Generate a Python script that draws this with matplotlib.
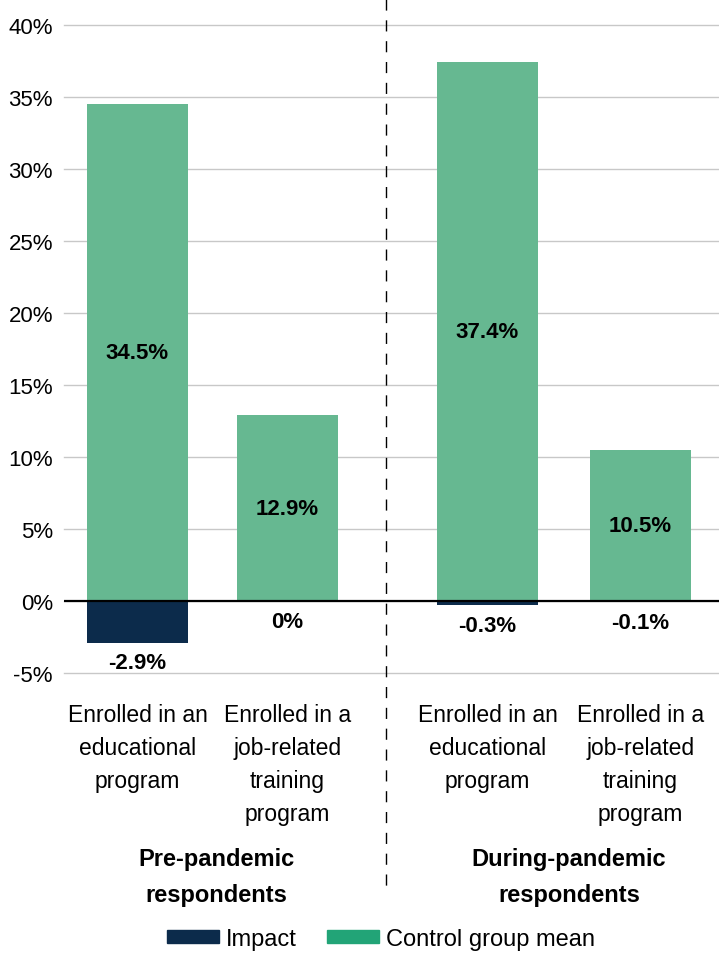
import matplotlib
matplotlib.use("Agg")
import matplotlib.pyplot as plt
import matplotlib.transforms as mtransforms
from matplotlib.lines import Line2D
from matplotlib.patches import Patch

# ── Data ───────────────────────────────────────────────────────────────────
categories = [
    "Enrolled in an\neducational\nprogram",
    "Enrolled in a\njob-related\ntraining\nprogram",
    "Enrolled in an\neducational\nprogram",
    "Enrolled in a\njob-related\ntraining\nprogram",
]
groups        = ["Pre-pandemic\nrespondents", "During-pandemic\nrespondents"]
control_mean  = [34.5, 12.9, 37.4, 10.5]
impact        = [-2.9, 0.0, -0.3, -0.1]
impact_labels = ["-2.9%", "0%", "-0.3%", "-0.1%"]
yticks        = [-5, 0, 5, 10, 15, 20, 25, 30, 35, 40]

# ── Layout (pixel-ish units along x) ───────────────────────────────────────
x_pos     = [73.5, 223.5, 423.5, 576.5]
group_x   = [152, 505]
bar_w     = 101
divider_x = 322

C_IMPACT  = "#0C2B4B"
C_CONTROL = "#66B891"
C_LEGEND  = "#22A477"

plt.rcParams["font.family"] = ["Liberation Sans", "DejaVu Sans"]

W, H = 719, 954
fig = plt.figure(figsize=(W / 100, H / 100), dpi=100)
ax = fig.add_axes([64 / W, 1 - 674 / H, 1 - 64 / W, (674 - 26) / H])

ax.bar(x_pos, control_mean, width=bar_w, color=C_CONTROL, zorder=2)
ax.bar(x_pos, impact, width=bar_w, color=C_IMPACT, zorder=2)
ax.axhline(0, color="black", linewidth=1.6, zorder=3)

for x, v in zip(x_pos, control_mean):
    ax.text(x, v / 2, f"{v}%", ha="center", va="center",
            fontsize=16, fontweight="bold", zorder=4)
for x, v, lab in zip(x_pos, impact, impact_labels):
    ax.annotate(lab, (x, min(v, 0)), xytext=(0, -7), textcoords="offset points",
                ha="center", va="top", fontsize=16, fontweight="bold")

ax.set_xlim(0, 655)
ax.set_ylim(-5, 40)
ax.set_yticks(yticks)
ax.set_yticklabels([f"{t}%" for t in yticks], fontsize=16)
ax.set_xticks([])
ax.tick_params(axis="y", length=0, pad=8)
ax.grid(axis="y", color="#C8C8C8", linewidth=1.0, zorder=0)
for gl in ax.get_ygridlines():
    gl.set_clip_on(False)
for s in ax.spines.values():
    s.set_visible(False)

# category and group labels below the axes
trans = mtransforms.blended_transform_factory(ax.transData, fig.transFigure)
for x, lab in zip(x_pos, categories):
    ax.text(x, 1 - 704 / H, lab, transform=trans, ha="center", va="top",
            fontsize=16.5, linespacing=1.55, clip_on=False)
for x, lab in zip(group_x, groups):
    ax.text(x, 1 - 848 / H, lab, transform=trans, ha="center", va="top",
            fontsize=17, fontweight="bold", linespacing=1.75, clip_on=False)

# vertical dashed divider
ax.add_line(Line2D([divider_x, divider_x], [1.0, 1 - 895 / H], transform=trans,
                   color="black", linewidth=1.0, linestyle=(0, (8, 7)),
                   clip_on=False))

handles = [Patch(color=C_IMPACT, label="Impact"),
           Patch(color=C_LEGEND, label="Control group mean")]
fig.legend(handles=handles, loc="center", bbox_to_anchor=(0.53, 1 - 940 / H),
           ncol=2, frameon=False, fontsize=17, handlelength=2.2,
           handleheight=0.5, handletextpad=0.3, columnspacing=1.3)

fig.savefig("out.png", dpi=100)
